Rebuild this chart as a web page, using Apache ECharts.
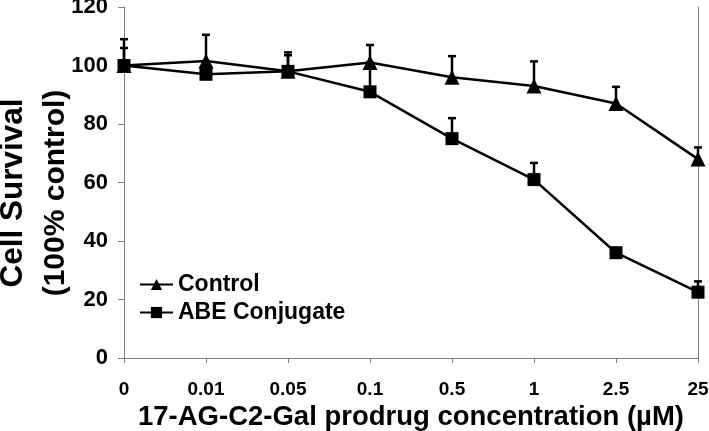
<!DOCTYPE html>
<html><head><meta charset="utf-8">
<script src="https://cdn.jsdelivr.net/npm/echarts@6/dist/echarts.min.js"></script>
<style>html,body{margin:0;padding:0;background:#fff}#c{width:709px;height:431px}</style>
</head><body><div id="c"></div>
<script>
var categories = ['0','0.01','0.05','0.1','0.5','1','2.5','25'];
var controlValues = [100, 101.5, 98, 101, 96, 93, 87, 68];
var controlErr = [9, 9, 6.5, 6, 7.2, 8.4, 5.7, 4];
var abeValues = [100, 97, 98, 91, 75, 61, 36, 22.5];
var abeErr = [6, 1, 5.5, 10, 7, 5.7, 1.5, 3.7];
var yTicks = [0, 20, 40, 60, 80, 100, 120];

var FONT = '"Liberation Sans", Arial, sans-serif';
var chart = echarts.init(document.getElementById('c'));

function errData(vals, errs) {
  return vals.map(function (v, i) { return [i, v, v + errs[i]]; });
}
function errRender(params, api) {
  var i = api.value(0);
  var lo = api.coord([i, api.value(1)]);
  var hi = api.coord([i, api.value(2)]);
  var st = { stroke: '#000', lineWidth: 2.5 };
  return { type: 'group', children: [
    { type: 'line', shape: { x1: lo[0], y1: lo[1], x2: hi[0], y2: hi[1] }, style: st },
    { type: 'line', shape: { x1: hi[0] - 4, y1: hi[1], x2: hi[0] + 4, y2: hi[1] }, style: st }
  ]};
}

chart.setOption({
  animation: false,
  backgroundColor: '#fff',
  grid: { left: 124, right: 11, top: 7, bottom: 73, containLabel: false, outerBoundsMode: 'none' },
  legend: {
    data: ['Control', 'ABE Conjugate'],
    orient: 'vertical', left: 134, top: 268,
    itemWidth: 33, itemHeight: 14, itemGap: 5,
    textStyle: { fontFamily: FONT, fontWeight: 'bold', fontSize: 23, color: '#000' }
  },
  xAxis: {
    type: 'category', data: categories, boundaryGap: false,
    axisLine: { lineStyle: { color: '#808080', width: 1 } },
    axisTick: { show: true, length: 5, lineStyle: { color: '#808080' } },
    axisLabel: { fontFamily: FONT, fontWeight: 'bold', fontSize: 19, color: '#000', margin: 22 },
    splitLine: { show: false },
    name: '17-AG-C2-Gal prodrug concentration (µM)',
    nameLocation: 'middle', nameGap: 43,
    nameTextStyle: { fontFamily: FONT, fontWeight: 'bold', fontSize: 27.5, color: '#000' }
  },
  yAxis: [{
    type: 'value', min: 0, max: 120, interval: 20,
    axisLine: { show: true, lineStyle: { color: '#808080', width: 1 } },
    axisTick: { show: true, length: 6, lineStyle: { color: '#808080' } },
    axisLabel: { fontFamily: FONT, fontWeight: 'bold', fontSize: 22, color: '#000', margin: 16 },
    splitLine: { show: false }
  }, {
    type: 'value', min: 0, max: 120, interval: 20, position: 'right',
    axisLine: { show: true, lineStyle: { color: '#808080', width: 1 } },
    axisTick: { show: false }, axisLabel: { show: false }, splitLine: { show: false }
  }],
  graphic: [{
    type: 'text', x: 13, y: 193, rotation: Math.PI / 2,
    style: { text: 'Cell Survival', fontFamily: FONT, fontWeight: 'bold', fontSize: 31.5, fill: '#000', textAlign: 'center', textVerticalAlign: 'middle' }
  }, {
    type: 'text', x: 56, y: 193, rotation: Math.PI / 2,
    style: { text: '(100% control)', fontFamily: FONT, fontWeight: 'bold', fontSize: 30, fill: '#000', textAlign: 'center', textVerticalAlign: 'middle' }
  }],
  series: [
    { name: 'ctrlErr', type: 'custom', renderItem: errRender, data: errData(controlValues, controlErr), z: 1, silent: true },
    { name: 'abeErr', type: 'custom', renderItem: errRender, data: errData(abeValues, abeErr), z: 1, silent: true },
    { name: 'Control', type: 'line', data: controlValues, symbol: 'triangle', symbolSize: 15,
      lineStyle: { color: '#000', width: 2.5 }, itemStyle: { color: '#000' }, z: 3 },
    { name: 'ABE Conjugate', type: 'line', data: abeValues, symbol: 'rect', symbolSize: 13,
      lineStyle: { color: '#000', width: 2.5 }, itemStyle: { color: '#000' }, z: 3 }
  ]
});
</script></body></html>
